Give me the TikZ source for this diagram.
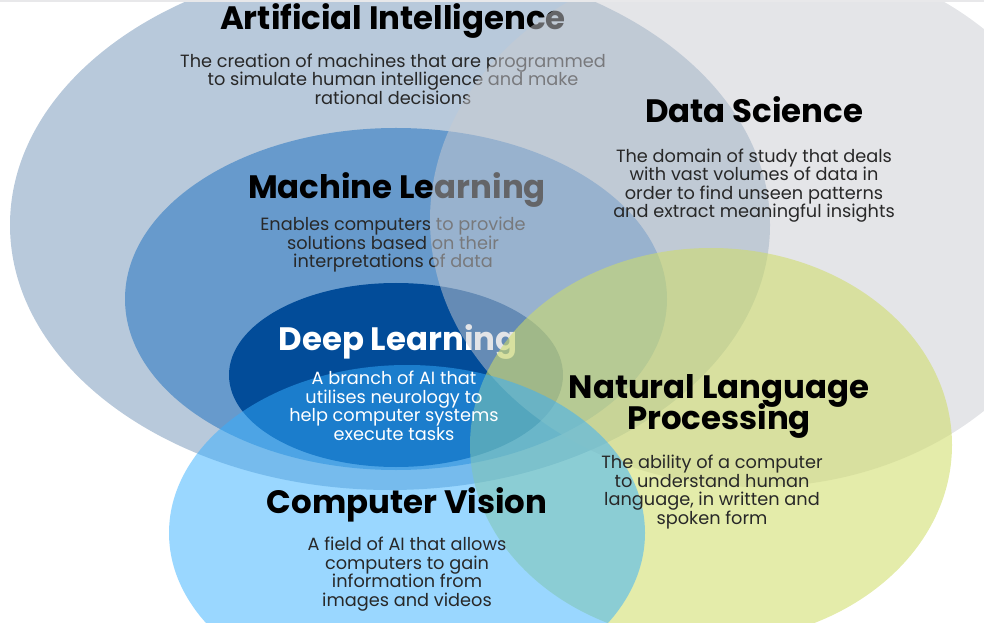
\documentclass[tikz,border=0pt]{standalone}
\usepackage{fontspec}
\setmainfont{Poppins}
\definecolor{aiblue}{RGB}{184,201,219}
\definecolor{mlblue}{RGB}{103,154,204}
\definecolor{dlblue}{RGB}{2,76,153}
\definecolor{dsgrey}{RGB}{201,203,209}
\definecolor{nlpgreen}{RGB}{207,221,103}
\definecolor{cvblue}{RGB}{53,175,255}
\definecolor{bodygrey}{RGB}{40,40,40}
\definecolor{stripgrey}{RGB}{232,232,234}
\begin{document}
\tikzset{every picture/.style={line width=0.75pt}}
\tikzset{
  vtitle/.style={anchor=base,inner sep=0.75pt,font=\fontsize{24.3}{28}\selectfont\bfseries,text=black},
  vbody/.style={inner sep=0.75pt,align=center,font=\fontsize{13.3}{13.9}\selectfont,text=bodygrey},
  vwhite/.style={text=white}
}

\begin{tikzpicture}[x=0.75pt,y=0.75pt,yscale=-1,xscale=1]
\path[use as bounding box] (0,0) rectangle (984,623);
\clip (0,0) rectangle (984,623);

%Shape: Ellipse [id:dp_ai] 
\draw  [draw opacity=0][fill=aiblue ,fill opacity=1 ] (10,225) .. controls (10,78.6) and (180.1,-40) .. (390,-40) .. controls (599.9,-40) and (770,78.6) .. (770,225) .. controls (770,371.4) and (599.9,490) .. (390,490) .. controls (180.1,490) and (10,371.4) .. (10,225) -- cycle ;
% Text Node
\draw (393,30) node (aititle) [vtitle] {Artificial Intelligence};
% Text Node
\draw (393,79) node (aibody) [vbody] {The creation of machines that are programmed\\to simulate human intelligence and make\\rational decisions};

%Shape: Ellipse [id:dp_ml] 
\draw  [draw opacity=0][fill=mlblue ,fill opacity=1 ] (125,299) .. controls (125,204.6) and (246.3,128) .. (396,128) .. controls (545.7,128) and (667,204.6) .. (667,299) .. controls (667,393.4) and (545.7,470) .. (396,470) .. controls (246.3,470) and (125,393.4) .. (125,299) -- cycle ;
% Text Node
\draw (397,199) node (mltitle) [vtitle] {Machine Learning};
% Text Node
\draw (393,245) node (mlbody) [vbody] {Enables computers to provide\\solutions based on their\\interpretations of data};

%Shape: Ellipse [id:dp_dl] 
\draw  [draw opacity=0][fill=dlblue ,fill opacity=1 ] (229,375) .. controls (229,324.2) and (303.8,283) .. (396,283) .. controls (488.2,283) and (563,324.2) .. (563,375) .. controls (563,425.8) and (488.2,467) .. (396,467) .. controls (303.8,467) and (229,425.8) .. (229,375) -- cycle ;
% Text Node
\draw (398,350) node (dltitle) [vtitle,vwhite] {Deep Learning};

%Shape: Ellipse [id:dp_ds] 
\draw  [draw opacity=0][fill=dsgrey ,fill opacity=0.5 ] (430,220) .. controls (430,72.5) and (576,-47) .. (756,-47) .. controls (936,-47) and (1082,72.5) .. (1082,220) .. controls (1082,367.5) and (936,487) .. (756,487) .. controls (576,487) and (430,367.5) .. (430,220) -- cycle ;
%Shape: Ellipse [id:dp_nlp] 
\draw  [draw opacity=0][fill=nlpgreen ,fill opacity=0.56 ] (470,445) .. controls (470,336.2) and (577.9,248) .. (711,248) .. controls (844.1,248) and (952,336.2) .. (952,445) .. controls (952,553.8) and (844.1,642) .. (711,642) .. controls (577.9,642) and (470,553.8) .. (470,445) -- cycle ;
%Shape: Ellipse [id:dp_cv] 
\draw  [draw opacity=0][fill=cvblue ,fill opacity=0.5 ] (169,533) .. controls (169,440.2) and (275.6,365) .. (407,365) .. controls (538.4,365) and (645,440.2) .. (645,533) .. controls (645,625.8) and (538.4,701) .. (407,701) .. controls (275.6,701) and (169,625.8) .. (169,533) -- cycle ;

% Text Node
\draw (394,406) node (dlbody) [vbody,vwhite] {A branch of AI that\\utilises neurology to\\help computer systems\\execute tasks};
% Text Node
\draw (754,123) node (dstitle) [vtitle] {Data Science};
% Text Node
\draw (754,185.5) node (dsbody) [vbody] {The domain of study that deals\\with vast volumes of data in\\order to find unseen patterns\\and extract meaningful insights};
% Text Node
\draw (719,398) node (nlptitle) [vtitle] {Natural Language};
% Text Node
\draw (719,429) node (nlptitleb) [vtitle] {Processing};
% Text Node
\draw (712,492) node (nlpbody) [vbody] {The ability of a computer\\to understand human\\language, in written and\\spoken form};
% Text Node
\draw (407,513) node (cvtitle) [vtitle] {Computer Vision};
% Text Node
\draw (407,574) node (cvbody) [vbody] {A field of AI that allows\\computers to gain\\information from\\images and videos};

%Shape: Rectangle [id:dp_strip] 
\draw  [draw opacity=0][fill=stripgrey ,fill opacity=1 ] (0,0) -- (984,0) -- (984,2.5) -- (0,2.5) -- cycle ;

\end{tikzpicture}
\end{document}
